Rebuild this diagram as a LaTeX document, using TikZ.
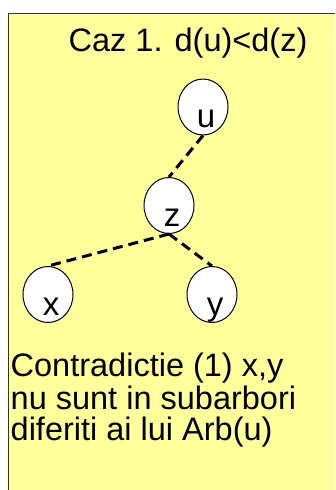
\documentclass[tikz,border=0pt]{standalone}
\usepackage{fontspec}
\setmainfont{Liberation Sans}
\usetikzlibrary{shapes.geometric}
\definecolor{bgyellow}{HTML}{FFFF9C}
\definecolor{frame}{HTML}{333333}
\tikzset{
  treenode/.style={ellipse, draw=black, line width=1pt, fill=white, minimum width=50pt, minimum height=56pt, inner sep=0pt},
  nodelabel/.style={anchor=base, inner sep=0pt, font=\fontsize{33}{36}\selectfont},
  bigtext/.style={anchor=base west, inner sep=0pt, font=\fontsize{32.5}{34}\selectfont},
  treeedge/.style={line width=3pt, dash pattern=on 10pt off 6pt}
}
\begin{document}
\begin{tikzpicture}[x=1pt,y=-1pt]
\path[use as bounding box, clip] (0,0) rectangle (335,490);
\fill[bgyellow] (8.5,13.5) rectangle (345,500);
\draw[frame, line width=1.5pt] (345,13.5) -- (8.5,13.5) -- (8.5,500);
\node[bigtext] (title) at (68.5,51.7) {Caz 1. d(u)<d(z)};
\node[treenode] (u) at (203,107) {};
\node[treenode] (z) at (169,205.5) {};
\node[treenode] (x) at (48,294.5) {};
\node[treenode] (y) at (212,294.5) {};
\draw[treeedge] (u.south) -- (z.north);
\draw[treeedge] (z.south) -- (x.north);
\draw[treeedge] (z.south) -- (y.north);
\node[nodelabel] (ut) at ([shift={(3,20.5)}]u.center) {u};
\node[nodelabel] (zt) at ([shift={(3,20.5)}]z.center) {z};
\node[nodelabel] (xt) at ([shift={(3,20.5)}]x.center) {x};
\node[nodelabel] (yt) at ([shift={(3,20.5)}]y.center) {y};
\node[bigtext] (c1) at (10.5,376.7) {Contradictie (1) x,y};
\node[bigtext] (c2) at (10.5,409.3) {nu sunt in subarbori};
\node[bigtext] (c3) at (10.5,440) {diferiti ai lui Arb(u)};
\end{tikzpicture}
\end{document}
